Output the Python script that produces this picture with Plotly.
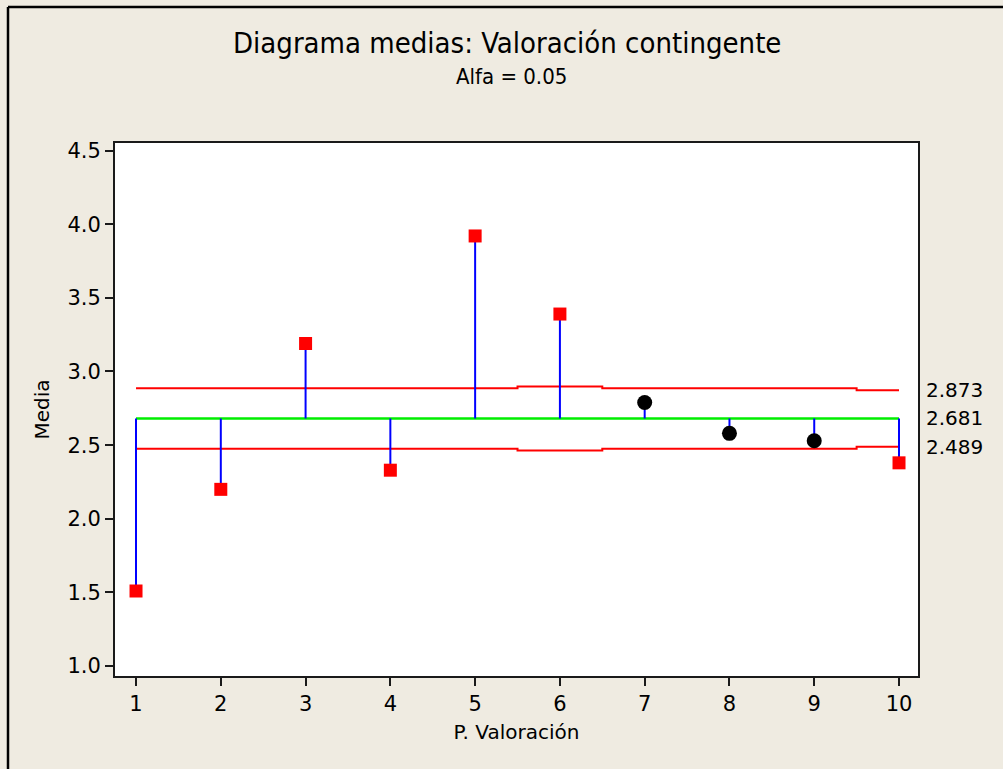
import plotly.graph_objects as go

# Group means per valuation point
groups = [1, 2, 3, 4, 5, 6, 7, 8, 9, 10]
means = [1.51, 2.20, 3.19, 2.33, 3.92, 3.39, 2.79, 2.58, 2.53, 2.38]

# Decision limits (ANOM, alpha = 0.05)
center = 2.681
upper = [2.886, 2.886, 2.886, 2.886, 2.886, 2.898, 2.886, 2.886, 2.886, 2.873]
lower = [2.476, 2.476, 2.476, 2.476, 2.476, 2.464, 2.476, 2.476, 2.476, 2.489]
limit_labels = ["2.873", "2.681", "2.489"]
limit_values = [2.873, 2.681, 2.489]

x_ticks = groups
y_ticks = [1.0, 1.5, 2.0, 2.5, 3.0, 3.5, 4.0, 4.5]

W, H = 1003, 769
L, R, T, B = 115, 918, 143, 676

def px_x(p):
    return (p - L) / (R - L)

def px_y(p):
    return (B - p) / (B - T)

def step_line(vals):
    xs, ys = [], []
    for g, v in zip(groups, vals):
        lo = max(groups[0], g - 0.5)
        hi = min(groups[-1], g + 0.5)
        xs += [lo, hi]
        ys += [v, v]
    return xs, ys

fig = go.Figure()

# Stems from the center line to each mean
sx, sy = [], []
for g, m in zip(groups, means):
    sx += [g, g, None]
    sy += [center, m, None]

ux, uy = step_line(upper)
lx, ly = step_line(lower)

fig.add_trace(go.Scatter(x=ux, y=uy, mode="lines", line=dict(color="#FF0000", width=2),
                         hoverinfo="skip"))
fig.add_trace(go.Scatter(x=lx, y=ly, mode="lines", line=dict(color="#FF0000", width=2),
                         hoverinfo="skip"))
fig.add_trace(go.Scatter(x=[groups[0], groups[-1]], y=[center, center], mode="lines",
                         line=dict(color="#00EE00", width=2.5), hoverinfo="skip"))
fig.add_trace(go.Scatter(x=sx, y=sy, mode="lines", line=dict(color="#0000FF", width=2),
                         hoverinfo="skip"))

# Means outside the limits in red squares, inside in black circles
out_x, out_y, in_x, in_y = [], [], [], []
for g, m, u, l in zip(groups, means, upper, lower):
    if m > u or m < l:
        out_x.append(g); out_y.append(m)
    else:
        in_x.append(g); in_y.append(m)

fig.add_trace(go.Scatter(x=out_x, y=out_y, mode="markers",
                         marker=dict(symbol="square", size=13, color="#FF0000",
                                     line=dict(width=0))))
fig.add_trace(go.Scatter(x=in_x, y=in_y, mode="markers",
                         marker=dict(symbol="circle", size=15, color="#000000",
                                     line=dict(width=0))))

title_font = "Liberation Sans Narrow, DejaVu Sans Condensed, Arial Narrow, sans-serif"
body_font = "DejaVu Sans, Verdana, sans-serif"

annotations = [
    dict(text="Diagrama medias: Valoración contingente", x=px_x(507), y=px_y(43),
         xref="paper", yref="paper", showarrow=False, xanchor="center", yanchor="middle",
         font=dict(size=29, color="#000000", family=title_font)),
    dict(text="Alfa = 0.05", x=px_x(511), y=px_y(76),
         xref="paper", yref="paper", showarrow=False, xanchor="center", yanchor="middle",
         font=dict(size=22, color="#000000", family=title_font)),
]
for lab, val in zip(limit_labels, limit_values):
    annotations.append(dict(text=lab, x=px_x(924), y=val, xref="paper", yref="y",
                            showarrow=False, xanchor="left", yanchor="middle",
                            font=dict(size=20, color="#000000", family=body_font)))

# Outer frame lines along the left and top of the page
shapes = [
    dict(type="line", xref="paper", yref="paper", x0=px_x(8), x1=px_x(8),
         y0=px_y(7), y1=px_y(775), line=dict(color="#000000", width=2.5)),
    dict(type="line", xref="paper", yref="paper", x0=px_x(8), x1=px_x(1010),
         y0=px_y(7), y1=px_y(7), line=dict(color="#000000", width=2.5)),
]

fig.update_layout(
    width=W, height=H,
    margin=dict(l=L, r=W - R, t=T, b=H - B),
    paper_bgcolor="#EFEBE1",
    plot_bgcolor="#FFFFFF",
    showlegend=False,
    annotations=annotations,
    shapes=shapes,
    font=dict(family=body_font, color="#000000"),
)

fig.update_xaxes(
    range=[0.752, 10.224], tickmode="array", tickvals=x_ticks,
    ticktext=[str(t) for t in x_ticks],
    showgrid=False, zeroline=False, showline=True, linecolor="#1a1a1a", linewidth=2,
    mirror=True, ticks="outside", ticklen=8, tickwidth=2, tickcolor="#1a1a1a",
    tickfont=dict(size=21), title=dict(text="P. Valoración", font=dict(size=20), standoff=10),
)
fig.update_yaxes(
    range=[0.933, 4.551], tickmode="array", tickvals=y_ticks,
    ticktext=[f"{t:.1f}" for t in y_ticks],
    showgrid=False, zeroline=False, showline=True, linecolor="#1a1a1a", linewidth=2,
    mirror=True, ticks="outside", ticklen=8, tickwidth=2, tickcolor="#1a1a1a",
    tickfont=dict(size=21), title=dict(text="Media", font=dict(size=20), standoff=12),
)

fig.write_html("out.html")
